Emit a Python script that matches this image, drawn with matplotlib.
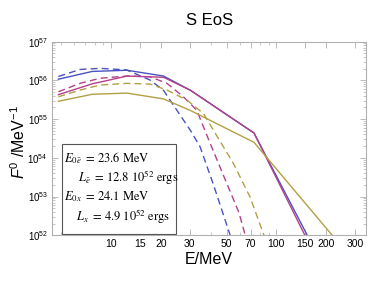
import matplotlib
matplotlib.use("Agg")
import matplotlib.pyplot as plt
from matplotlib.patches import Rectangle
from matplotlib.ticker import LogLocator, FixedLocator, NullFormatter, FixedFormatter

plt.rcParams['font.family'] = ['Liberation Sans', 'DejaVu Sans']
plt.rcParams['mathtext.fontset'] = 'custom'
plt.rcParams['mathtext.rm'] = 'Liberation Sans'
plt.rcParams['mathtext.it'] = 'Liberation Sans:italic'
plt.rcParams['mathtext.bf'] = 'Liberation Sans:bold'

# ---- data ----
blue_solid_E = [4.8, 7.7, 12.5, 20.8, 30.3, 73.3, 154]
blue_solid_F = [1.07e56, 1.70e56, 1.82e56, 1.29e56, 5.50e55, 4.37e54, 1.0e52]
mag_solid_E = [4.8, 7.7, 12.5, 20.8, 30.3, 73.3, 149]
mag_solid_F = [4.27e55, 8.13e55, 1.29e56, 1.20e56, 5.50e55, 4.37e54, 1.0e52]
gold_solid_E = [4.8, 7.7, 12.5, 20.8, 30.3, 73.3, 218]
gold_solid_F = [2.88e55, 4.37e55, 4.68e55, 3.31e55, 1.66e55, 2.51e54, 1.0e52]

blue_dash_E = [4.8, 6.5, 8.6, 12.4, 17.2, 20.7, 25.0, 30.2, 34.6, 41.7, 52.6]
blue_dash_F = [1.26e56, 1.91e56, 2.04e56, 1.86e56, 1.02e56, 5.62e55, 1.70e55, 5.13e54,
               1.91e54, 2.0e53, 1.0e52]
mag_dash_E = [4.8, 6.49, 8.57, 12.45, 17.22, 21.8, 27.4, 33.0, 39.1, 49.3, 59.4, 64.9]
mag_dash_F = [5.07e55, 8.36e55, 1.13e56, 1.29e56, 1.24e56, 8.36e55, 3.76e55, 1.70e55,
              2.84e54, 2.61e53, 3.87e52, 1.0e52]
gold_dash_E = [4.8, 6.49, 8.57, 12.45, 17.22, 21.8, 28.8, 36.2, 55.1, 69.5, 84.5]
gold_dash_F = [3.76e55, 5.61e55, 7.55e55, 8.36e55, 8.02e55, 5.61e55, 3.09e55, 1.40e55,
               7.08e53, 9.55e52, 9.66e51]

x_ticks = [10, 15, 20, 30, 50, 70, 100, 150, 200, 300]
x_ticklabels = ["10", "15", "20", "30", "50", "70", "100", "150", "200", "300"]

legend_lines = [r"$E_{0\bar{e}}\ =\,23.6\ \mathrm{MeV}$",
                r"$L_{\bar{e}}\ =\,12.8\ 10^{52}\ \mathrm{ergs}$",
                r"$E_{0x}\ =\,24.1\ \mathrm{MeV}$",
                r"$L_{x}\ =\,4.9\ 10^{52}\ \mathrm{ergs}$"]

title = "S EoS"
xlabel = "E/MeV"
ylabel = r"$F^0$ /MeV$^{-1}$"

# ---- styling ----
c_blue = '#4a52c2'
c_mag = '#b3418a'
c_gold = '#b3a043'
lw = 1.0
dash = (0, (5, 3))

fig = plt.figure(figsize=(3.74, 2.89), dpi=100)
ax = fig.add_axes([0.139, 0.186, 0.840, 0.670])

ax.plot(blue_dash_E, blue_dash_F, color=c_blue, lw=lw, linestyle=dash)
ax.plot(mag_dash_E, mag_dash_F, color=c_mag, lw=lw, linestyle=dash)
ax.plot(gold_dash_E, gold_dash_F, color=c_gold, lw=lw, linestyle=dash)
ax.plot(blue_solid_E, blue_solid_F, color=c_blue, lw=lw)
ax.plot(mag_solid_E, mag_solid_F, color=c_mag, lw=lw)
ax.plot(gold_solid_E, gold_solid_F, color=c_gold, lw=lw)

ax.set_xscale('log')
ax.set_yscale('log')
ax.set_xlim(4.39, 350)
ax.set_ylim(1e52, 1e57)

ax.xaxis.set_major_locator(FixedLocator(x_ticks))
ax.xaxis.set_major_formatter(FixedFormatter(x_ticklabels))
ax.xaxis.set_minor_locator(LogLocator(base=10, subs=[1, 2, 3, 4, 5, 6, 7, 8, 9], numticks=20))
ax.xaxis.set_minor_formatter(NullFormatter())
ax.yaxis.set_major_locator(LogLocator(base=10, numticks=10))
ax.yaxis.set_minor_locator(LogLocator(base=10, subs=[2, 3, 4, 5, 6, 7, 8, 9], numticks=20))
ax.yaxis.set_minor_formatter(NullFormatter())

frame_c = '#b0b0b0'
for s in ax.spines.values():
    s.set_color(frame_c)
    s.set_linewidth(0.8)
ax.tick_params(which='both', direction='in', top=True, right=True, colors=frame_c,
               labelcolor='black')
ax.tick_params(which='major', length=4, width=0.6, labelsize=7.5, pad=3)
ax.tick_params(which='minor', length=2, width=0.5)
for lab in ax.get_yticklabels():
    lab.set_fontsize(7)

ax.set_title(title, fontsize=12, pad=12)
ax.set_xlabel(xlabel, fontsize=11.5, labelpad=2)
ax.set_ylabel(ylabel, fontsize=11.5)
ax.yaxis.set_label_coords(-0.075, 0.48)

# legend box
ax.add_patch(Rectangle((0.032, 0.004), 0.363, 0.469, transform=ax.transAxes,
                       facecolor='white', edgecolor='#555555', lw=0.8, zorder=5))
text_x = [0.037, 0.082, 0.037, 0.078]
text_y = [0.399, 0.296, 0.198, 0.095]
for s, tx, ty in zip(legend_lines, text_x, text_y):
    ax.text(tx, ty, s, transform=ax.transAxes, fontsize=9, math_fontfamily='stix',
            va='center', ha='left', zorder=6)

fig.savefig('out.png', dpi=100)
